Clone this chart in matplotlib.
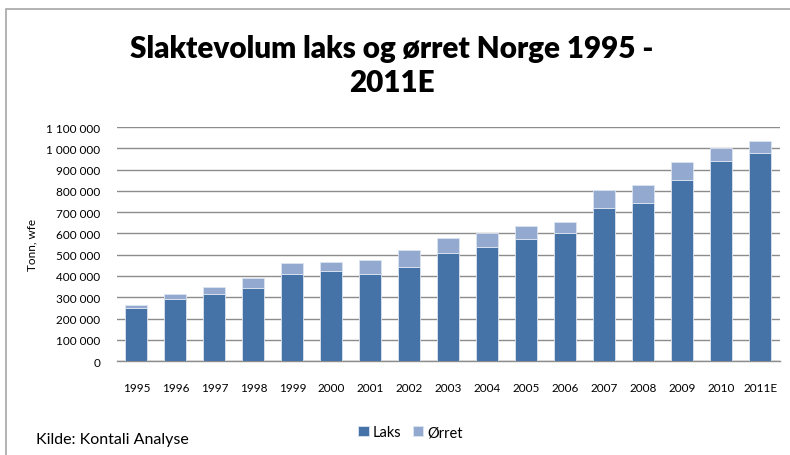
import matplotlib.pyplot as plt
from matplotlib.patches import Rectangle

plt.rcParams['font.family'] = ['Lato', 'DejaVu Sans']

years = ['1995', '1996', '1997', '1998', '1999', '2000', '2001', '2002', '2003',
         '2004', '2005', '2006', '2007', '2008', '2009', '2010', '2011E']
laks = [248000, 290000, 316000, 342000, 410000, 422000, 410000, 441000, 506000,
        536000, 573000, 602000, 721000, 743000, 852000, 941000, 979000]
orret = [16000, 27000, 33000, 48000, 49000, 46000, 64000, 80000, 75000,
         66000, 60000, 52000, 82000, 85000, 86000, 60000, 55000]
yticks = list(range(0, 1100001, 100000))

fig = plt.figure(figsize=(7.9, 4.56), dpi=100)
ax = fig.add_axes([0.148, 0.206, 0.839, 0.513])

# outer chart frame
fig.patches.append(Rectangle((0.007, -0.01), 1.0, 0.988, transform=fig.transFigure,
                             fill=False, edgecolor='#a6a6a6', linewidth=1.2))

x = range(len(years))
ax.bar(x, laks, width=0.56, color='#4572A7', edgecolor='#dce4f0', linewidth=0.6,
       label='Laks', zorder=3)
ax.bar(x, orret, width=0.56, bottom=laks, color='#93A9CF', edgecolor='#dce4f0',
       linewidth=0.6, label='Ørret', zorder=3)

ax.set_xlim(-0.5, len(years) - 0.5)
ax.set_ylim(0, 1100000)
ax.set_yticks(yticks)
ax.set_yticklabels([f'{v:,}'.replace(',', ' ') for v in yticks], fontsize=8.5)
ax.set_xticks(list(x))
ax.set_xticklabels(years, fontsize=8.5)
ax.tick_params(axis='y', length=0, pad=12)
ax.tick_params(axis='x', length=0, pad=15)
ax.yaxis.grid(True, color='#8c8c8c', linewidth=1.0, zorder=0)
for s in ['top', 'right', 'left']:
    ax.spines[s].set_visible(False)
ax.spines['bottom'].set_color('#8c8c8c')
ax.spines['bottom'].set_linewidth(1.0)
ax.set_ylabel('Tonn, wfe', fontsize=8.5, labelpad=6)

fig.text(0.496, 0.893, 'Slaktevolum laks og ørret Norge 1995 -', ha='center', va='center',
         fontsize=21.3, fontweight='heavy')
fig.text(0.496, 0.818, '2011E', ha='center', va='center', fontsize=21.3, fontweight='heavy')
fig.text(0.045, 0.035, 'Kilde: Kontali Analyse', fontsize=11.5, va='center')

fig.legend(loc='center', bbox_to_anchor=(0.52, 0.05), ncol=2, frameon=False,
           fontsize=10.5, handlelength=0.7, handleheight=0.7, handletextpad=0.3,
           columnspacing=0.8)

plt.savefig('out.png', dpi=100)
